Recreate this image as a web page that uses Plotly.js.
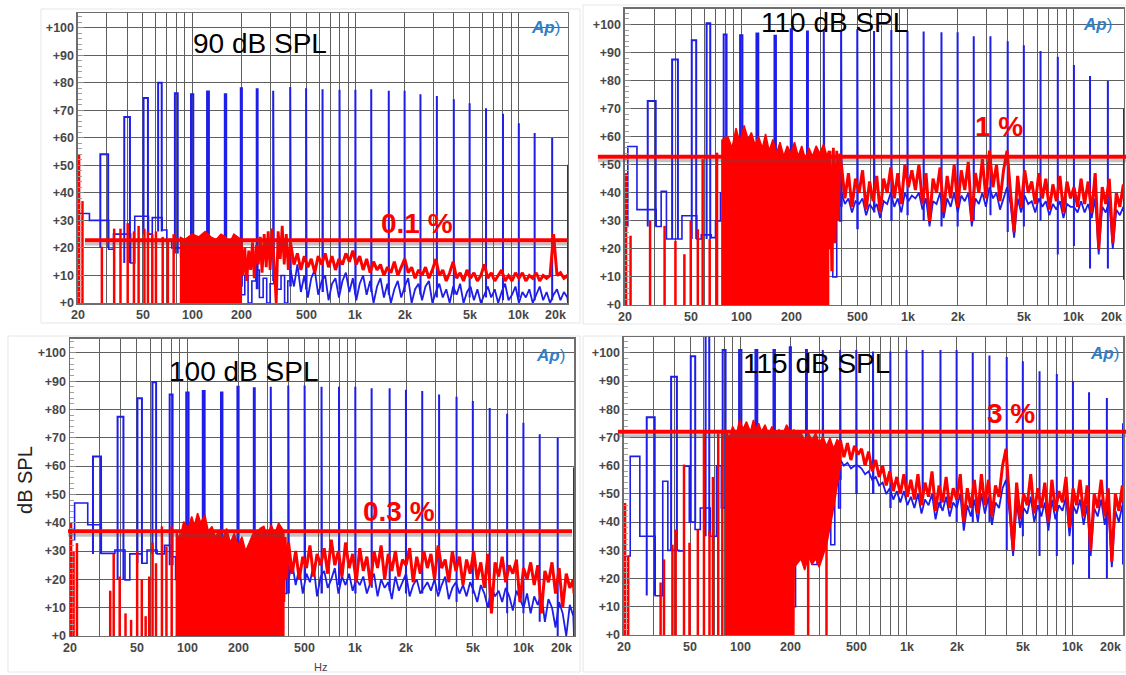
<!DOCTYPE html>
<html><head><meta charset="utf-8">
<script src="https://cdn.plot.ly/plotly-3.0.1.min.js"></script>
<style>html,body{margin:0;padding:0;background:#fff}#chart{width:1126px;height:675px}</style>
</head><body><div id="chart"></div>
<script>
// ---------- shared categories ----------
const TONE_F = [29, 40, 52, 63.5, 80, 100, 125, 160, 200, 250, 315, 400, 500, 630, 800, 1000, 1250, 1600, 2000, 2500, 3150, 4000, 5000, 6300, 8000, 10000, 12500, 16000, 20000];
const NOISE_F = [400,420,441,463,486,511,536,563,591,621,
 652,684,718,754,792,832,873,917,963,1011,
 1061,1114,1170,1229,1290,1355,1422,1493,1568,1647,
 1729,1815,1906,2002,2102,2207,2317,2433,2555,2682,
 2816,2957,3105,3260,3423,3594,3774,3963,4161,4369,
 4587,4817,5058,5311,5576,5855,6148,6455,6778,7117,
 7473,7846,8239,8651,9083,9537,10014,10515,11041,11593,
 12172,12781,13420,14091,14795,15535,16312,17127,17984,18883,
 19827,20000];
const GRID_F = [20,30,40,50,60,70,80,90,100,200,300,400,500,600,700,800,900,1000,2000,3000,4000,5000,6000,7000,8000,9000,10000,20000];
const XLAB_F = [20,50,100,200,500,1000,2000,5000,10000,20000];
const XLAB_T = ['20','50','100','200','500','1k','2k','5k','10k','20k'];
const Y_TICKS = [0,10,20,30,40,50,60,70,80,90,100];
const Y_TEXT = ['+0','+10','+20','+30','+40','+50','+60','+70','+80','+90','+100'];

// ---------- 90 dB SPL ----------
const TL_TITLE = '90 dB SPL', TL_THD_TEXT = '0.1 %', TL_THD = 22.8;
const TL_TONE_V = [54, 67.5, 74.4, 80, 76.2, 75.8, 76.8, 75.8, 78, 77.6, 77.1, 78.4, 78, 77.6, 77.4, 77.4, 77.6, 77.1, 77.1, 75.8, 75.2, 74, 72.5, 70.7, 68.7, 65.3, 61.7, 59.9, 50.2];
const TL_TONE_B = [20, 14.5, 25, 26, 18, 12, 14, 10, 6, 5, 8, 6, 5, 4, 5, 3, 4, 3, 4, 3, 2, 3, 2, 2, 1, 2, 1, 1, 0];
const TL_STAIR_F = [20,23.5,27.5,30.8,33,38.5,42,44.5,50.5,54,57,61.5,65.5,70,75,85,92,100,108,117,126,136,147,159,172,186,200,210,220,232,245,258,272,286,300,316,332,350,368,385,400];
const TL_STAIR_V = [32.5,30,30,19.5,25,25,14.5,31.5,31.5,25,31,31,26.5,23,20,17,12,18,10,19,8,16,9,14,6,12,3,10,0,8,12,2,9,0,7,12,5,10,0,8,12];
const TL_BLUE_N = [12,6,14,4,10,2,9,12,3,8,
 10,1,7,9,2,8,11,4,9,1,
 7,10,3,8,0,6,9,2,7,0,
 5,8,2,6,9,0,5,7,1,6,
 8,0,4,7,2,5,0,6,3,7,
 0,4,6,1,5,0,3,6,2,5,
 0,4,7,1,3,6,0,4,2,5,
 0,3,6,1,4,0,3,5,1,4,
 2,0];
const TL_RED_N = [22,14,18,12,17,13,16,11,17,14,
 18,13,17,12,16,14,18,15,19,14,
 17,12,16,11,15,12,14,10,13,11,
 15,10,13,16,11,13,9,12,10,13,
 9,12,16,10,12,8,11,15,9,11,
 8,12,9,11,8,10,14,9,11,8,
 10,12,8,10,8,11,9,11,8,10,
 9,11,8,10,9,10,25,10,11,9,
 10,9];
const TL_SPK_F = [20.3,21.3,28,33.3,36.4,40.3,44,47,51,53.6,57,60,66,71,77];
const TL_SPK_V = [54,37,20.5,27,27,29,26,28,27,26,25,26,24,23,25];
const TL_BLK_F = [84,90,100,110,120,130,140,150,160,170,180,190,200];
const TL_BLK_HI = [24,23,25,24,26,24,23,25,24,22,25,24,23];
const TL_BLK_LO = [0,0,0,0,0,0,0,0,0,0,0,0,0];
const TL_RLOW_F = [200,205,210,216,222,228,234,240,247,254,261,268,276,284,292,300,309,318,327,336,346,356,366,377,388,400];
const TL_RLOW_V = [22,10,20,8,19,12,22,9,21,14,24,11,25,13,26,12,27,15,0,26,16,28,14,25,12,22];

// ---------- 110 dB SPL ----------
const TR_TITLE = '110 dB SPL', TR_THD_TEXT = '1 %', TR_THD = 52.8;
const TR_TONE_V = [72.7, 87.5, 94.4, 100.4, 96.4, 96.1, 96.8, 96, 98.3, 97.5, 98, 98, 98.3, 97.7, 98, 97.7, 97.5, 97.2, 97.2, 95.8, 95.8, 94, 92.6, 90.5, 88.5, 85.5, 81.6, 79.8, 70];
const TR_TONE_B = [28, 23.5, 23.5, 23.5, 30, 20, 25, 30, 25, 20, 15, 35, 27, 33, 30, 32, 30, 28, 28, 30, 32, 26, 28, 30, 18, 21, 13, 13, 9];
const TR_STAIR_F = [20,20.8,23.6,27.5,30.8,33,35.5,38.5,42,44,50.5,54,57.5,61.5,66,70,75,85,95,105,115,127,140,155,170,185,200,212,225,240,258,275,295,315,335,355,375,390,400];
const TR_STAIR_V = [28,56.5,34,34,28,40.5,23.5,23.5,23.5,31.8,31.8,23.5,25,25,24,30,40,30,45,22,48,35,50,28,45,20,40,0,35,20,42,25,45,20,38,10,40,30,45];
const TR_BLUE_N = [40,36,38,33,37,36,38,32,36,34,
 36,31,37,36,40,35,38,33,40,37,
 39,38,40,34,38,28,37,36,40,31,
 38,35,40,33,39,37,40,28,38,36,
 40,35,42,38,40,34,38,42,36,24,
 38,33,39,36,37,33,38,35,37,32,
 36,34,37,31,36,35,35,33,37,33,
 36,31,38,18,35,33,37,20,34,32,
 35,33];
const TR_RED_N = [50,38,47,35,45,40,48,34,44,37,
 46,33,45,40,49,38,47,36,50,42,
 48,41,50,36,47,30,45,40,49,33,
 46,38,50,35,48,41,51,30,47,40,
 52,38,55,42,50,37,48,55,40,26,
 46,35,48,40,44,36,47,38,45,34,
 43,37,46,33,44,38,42,35,45,36,
 44,33,47,20,42,36,45,22,40,35,
 43,38];
const TR_SPK_F = [20.3,21.6,28.3,34.6,40.2,45.5,49.7,54.8,58.6,64.6,71.5,77];
const TR_SPK_V = [47,24.7,30,28.2,22.9,18.1,30,27,52,23.5,54.3,59];
const TR_BLK_F = [77,83,88,93,98,104,110,115,121,127,134,140,147,155,163,171,180,189,199,209,220,231,243,255,268,282,297,312,328,335];
const TR_BLK_HI = [59,60,56,63,58,64,59,61.5,57,60,56,61,55,59,54,58,53,56.7,54,58,53,56.7,52,56,53,56.7,54,57.3,53,55];
const TR_BLK_LO = [0,0,0,0,0,0,0,0,0,0,0,0,0,0,0,0,0,0,0,0,0,0,0,0,0,0,0,0,0,0];
const TR_RLOW_F = [335,342,350,358,366,375,383,392,400];
const TR_RLOW_V = [20,55,12,56,22,55,30,54,50];

// ---------- 100 dB SPL ----------
const BL_TITLE = '100 dB SPL', BL_THD_TEXT = '0.3 %', BL_THD = 37;
const BL_TONE_V = [63.4, 77.4, 84, 89.6, 85.3, 86, 86.5, 86, 88, 87.5, 88, 88.5, 88.5, 88, 88, 88, 87.5, 87.5, 87, 86.5, 85.3, 84.5, 83, 80.5, 78.5, 75.3, 71.3, 70, 59.5];
const BL_TONE_B = [29, 19.8, 25.7, 29, 25, 10, 20, 15, 18, 20, 5, 15, 20, 15, 18, 15, 17, 16, 15, 15, 16, 12, 15, 10, 8, 8, 5, 0, 0];
const BL_STAIR_F = [20,21.3,25.5,28.5,30.7,37,39,42.5,45.4,49.6,53.5,57.5,61,66,73,80,85,95,105,115,127,140,155,170,185,200,215,230,250,270,290,310,330,350,370,390,400];
const BL_STAIR_V = [34,47,39.3,39.3,29.2,30.4,30.4,19.8,29,29,25.7,30.4,30.4,29,32,28,20,30,12,35,18,30,10,28,15,32,8,30,18,35,12,30,5,28,15,25,20];
const BL_BLUE_N = [20,26,18,24,15,22,19,25,14,21,
 23,17,20,24,15,21,18,22,16,20,
 18,21,15,19,22,14,20,17,19,13,
 21,16,19,22,14,18,20,15,17,19,
 16,20,14,18,21,13,17,19,15,18,
 14,19,16,12,18,15,10,17,14,16,
 12,17,14,9,16,13,10,15,8,14,
 11,15,5,13,10,3,12,8,0,11,
 7,0];
const BL_RED_N = [33,22,30,20,28,24,32,21,29,25,
 31,22,34,25,30,21,33,24,29,19,
 31,23,28,18,30,24,32,20,29,23,
 30,21,27,25,31,19,28,22,30,24,
 29,20,32,24,27,19,30,23,28,18,
 27,22,30,20,26,17,29,8,26,21,
 28,19,25,22,27,12,24,20,26,18,
 25,8,23,19,26,15,24,10,22,17,
 20,15];
const BL_SPK_F = [20.3,21,22,34.7,36.4,39.5,42.8,46.2,50.2,53.5,56.4,59.2,62,65,70.5,75,80.6];
const BL_SPK_V = [40,30,32.8,16,29,21,8,5.7,30,20,7,21,33,25.7,38.7,31.6,38.7];
const BL_BLK_F = [85,90,95,101,106,110,115,120,127,133,140,147,155,162,171,180,190,200,211,222,233,245,258,271,285,300,315,331,349,368,375];
const BL_BLK_HI = [37.5,34,40.4,38,42.2,39,43.4,40,42.8,37,38.7,35,37.5,34,38,33,36.3,32,35,30,32.8,36,36.3,38,38.7,35,39.3,36,39.9,38,37];
const BL_BLK_LO = [0,0,0,0,0,0,0,0,0,0,0,0,0,0,0,0,0,0,0,0,0,0,0,0,0,0,0,0,0,0,0];
const BL_RLOW_F = [375,382,390,400];
const BL_RLOW_V = [12,35,20,33];

// ---------- 115 dB SPL ----------
const BR_TITLE = '115 dB SPL', BR_THD_TEXT = '3 %', BR_THD = 72;
const BR_TONE_V = [77.2, 91.5, 98.8, 106, 101, 101, 101, 101, 102, 101, 101, 101, 101, 100.5, 100.5, 101, 101, 101, 101, 100, 99, 98.5, 97, 93.5, 92.5, 90, 86, 84, 75];
const BR_TONE_B = [14, 30, 40, 35, 45, 50, 30, 35, 10, 25, 30, 55, 50, 50, 45, 50, 48, 45, 40, 40, 40, 30, 35, 28, 28, 25, 20, 20, 25];
const BR_STAIR_F = [20,21.8,24.9,27.9,30.8,34.2,36.7,39.6,42.7,45.9,49.4,53.5,57.5,61,66,72,77,85,95,105,115,127,140,155,170,185,200,215,230,250,270,290,310,330,350,370,390,400];
const BR_STAIR_V = [28,63.3,35,35,13.9,54.5,30,30,29.8,59.8,40,37.4,45,45,35,60,45,55,40,65,45,60,35,62,40,58,10,55,28,50,25,55,35,50,32,55,45,60];
const BR_BLUE_N = [62,60,61,59,60,60,59,57,58,55,
 56,53,54,50,52,48,51,47,51,46,
 49,45,50,43,48,46,50,41,47,44,
 49,42,47,45,50,37,46,42,48,40,
 50,43,49,39,47,45,52,55,43,28,
 47,38,45,43,49,40,46,42,47,37,
 48,41,46,44,49,35,46,43,48,39,
 46,28,45,42,48,39,46,24,44,40,
 46,43];
const BR_RED_N = [69,63,68,62,67,64,66,60,65,58,
 62,56,60,53,58,51,56,50,57,49,
 55,48,57,46,54,49,58,44,53,47,
 56,45,52,48,57,40,52,45,55,43,
 57,46,55,42,53,49,60,66,47,30,
 54,41,50,46,57,43,52,45,54,40,
 55,44,51,47,56,38,52,46,55,42,
 53,30,50,45,55,42,52,26,50,44,
 53,47];
const BR_SPK_F = [20.3,21.2,33.2,34.8,39.1,40.9,45.9,49.5,55.6,60.5,65.3,68.5,73.7,78,256,330];
const BR_SPK_V = [46.8,28,18.6,26.8,32,37.4,60.4,32.7,37.4,71.5,37,56,71.5,72.7,30,35];
const BR_BLK_F = [81,86,90,95,99,104,109,115,120,124,129,134,141,148,155,162,171,180,190,200,210,211,232,244,257,270,284,298,314,330,346,364,382,400];
const BR_BLK_HI = [72.7,70,73.9,71,76.2,73,75.6,72,76.2,73,75,72,74.5,71,73.9,70,72.7,71,74.5,72,72.7,72,71.5,69,71.5,69,71.5,68,70.3,67,69.8,66,69.2,68];
const BR_BLK_LO = [0,0,0,0,0,0,0,0,0,0,0,0,0,0,0,0,0,0,0,0,0,24,27,23,28,25,27,24,28,32,38,45,52,60];
const BR_RLOW_F = [];
const BR_RLOW_V = [];

// ---------- styles / placement ----------
const FONT = 'Liberation Sans, Arial, sans-serif';
const BLUE = 'rgb(30,30,232)', RED = 'rgb(255,0,0)', GRID = '#5f5f5f', AXIS = '#6e6e6e';
const BIN_HALF = 1.6;

const PANELS = [
 {title:TL_TITLE, thdText:TL_THD_TEXT, thd:TL_THD, toneV:TL_TONE_V, toneB:TL_TONE_B, stairF:TL_STAIR_F, stairV:TL_STAIR_V,
  blueN:TL_BLUE_N, redN:TL_RED_N, spkF:TL_SPK_F, spkV:TL_SPK_V, blkF:TL_BLK_F, blkHi:TL_BLK_HI, blkLo:TL_BLK_LO, rlF:TL_RLOW_F, rlV:TL_RLOW_V,
  xd:[0.06927,0.50444], yd:[0.55111,0.98074], ymax:105.3,
  titlePos:[0.231,0.936], thdPos:[0.3703,0.6696], lineX:[0.0755,0.5044], logo:[0.4849,0.960], frame:[0.0364,0.5151,0.5215,0.9867]},
 {title:TR_TITLE, thdText:TR_THD_TEXT, thd:TR_THD, toneV:TR_TONE_V, toneB:TR_TONE_B, stairF:TR_STAIR_F, stairV:TR_STAIR_V,
  blueN:TR_BLUE_N, redN:TR_RED_N, spkF:TR_SPK_F, spkV:TR_SPK_V, blkF:TR_BLK_F, blkHi:TR_BLK_HI, blkLo:TR_BLK_LO, rlF:TR_RLOW_F, rlV:TR_RLOW_V,
  xd:[0.55506,0.99822], yd:[0.54815,0.98667], ymax:105.5,
  titlePos:[0.7407,0.967], thdPos:[0.8872,0.8119], lineX:[0.531,1.0], logo:[0.975,0.963], frame:[0.5178,1.0,0.52,0.9926]},
 {title:BL_TITLE, thdText:BL_THD_TEXT, thd:BL_THD, toneV:BL_TONE_V, toneB:BL_TONE_B, stairF:BL_STAIR_F, stairV:BL_STAIR_V,
  blueN:BL_BLUE_N, redN:BL_RED_N, spkF:BL_SPK_F, spkV:BL_SPK_V, blkF:BL_BLK_F, blkHi:BL_BLK_HI, blkLo:BL_BLK_LO, rlF:BL_RLOW_F, rlV:BL_RLOW_V,
  xd:[0.06217,0.50977], yd:[0.05778,0.49778], ymax:104.9,
  titlePos:[0.216,0.449], thdPos:[0.3544,0.2415], lineX:[0.0604,0.508], logo:[0.4885,0.4726], frame:[0.0071,0.5151,0.0044,0.5022]},
 {title:BR_TITLE, thdText:BR_THD_TEXT, thd:BR_THD, toneV:BR_TONE_V, toneB:BR_TONE_B, stairF:BR_STAIR_F, stairV:BR_STAIR_V,
  blueN:BR_BLUE_N, redN:BR_RED_N, spkF:BR_SPK_F, spkV:BR_SPK_V, blkF:BR_BLK_F, blkHi:BR_BLK_HI, blkLo:BR_BLK_LO, rlF:BR_RLOW_F, rlV:BR_RLOW_V,
  xd:[0.55417,0.99734], yd:[0.05926,0.50074], ymax:105.6,
  titlePos:[0.7247,0.462], thdPos:[0.8979,0.3881], lineX:[0.5488,1.0], logo:[0.9813,0.477], frame:[0.5178,1.0,0.0044,0.5022]}
];

const data = [];
const layout = {
  width:1126, height:675, margin:{l:0,r:0,t:0,b:0}, paper_bgcolor:'#ffffff', plot_bgcolor:'#ffffff',
  showlegend:false, hovermode:false, font:{family:FONT}, annotations:[], shapes:[]
};

PANELS.forEach((p,k)=>{
  const n = k===0 ? '' : String(k+1);
  const xa = 'x'+n, ya = 'y'+n;
  layout['xaxis'+n] = {type:'log', domain:p.xd, range:[Math.log10(20), Math.log10(20000)], anchor:ya,
    tickmode:'array', tickvals:GRID_F, showticklabels:false, ticks:'', showgrid:true, gridcolor:GRID, gridwidth:1,
    showline:true, linecolor:AXIS, linewidth:1.5, mirror:true, zeroline:false, fixedrange:true};
  layout['yaxis'+n] = {domain:p.yd, range:[0,p.ymax], anchor:xa, tickmode:'array', tickvals:Y_TICKS, ticktext:Y_TEXT,
    tickfont:{family:FONT, size:12.5, color:'#474747', weight:'bold'}, ticks:'inside', ticklen:6, tickcolor:'#8a8a8a',
    minor:{tickmode:'linear', tick0:0, dtick:2, ticks:'inside', ticklen:4, tickcolor:'#a0a0a0', showgrid:false},
    showgrid:true, gridcolor:GRID, gridwidth:1, showline:true, linecolor:AXIS, linewidth:1.5, mirror:true, zeroline:false, fixedrange:true};

  const base = {xaxis:xa, yaxis:ya, mode:'lines', hoverinfo:'skip', showlegend:false};
  // blue: low-frequency staircase
  data.push(Object.assign({}, base, {x:p.stairF, y:p.stairV, line:{color:BLUE, width:1.6, shape:'hv'}}));
  // blue: noise floor
  data.push(Object.assign({}, base, {x:NOISE_F, y:p.blueN, line:{color:BLUE, width:1.8}}));
  // blue: tones
  const tx=[], ty=[];
  TONE_F.forEach((f,i)=>{ tx.push(f-BIN_HALF, f-BIN_HALF, f+BIN_HALF, f+BIN_HALF, null); ty.push(p.toneB[i], p.toneV[i], p.toneV[i], p.toneB[i], null); });
  data.push(Object.assign({}, base, {x:tx, y:ty, line:{color:BLUE, width:2}}));
  // red: dense block as a closed polygon (upper envelope then lower envelope reversed)
  const bx = p.blkF.concat(p.blkF.slice().reverse());
  const by = p.blkHi.concat(p.blkLo.slice().reverse());
  data.push(Object.assign({}, base, {x:bx, y:by, fill:'toself', fillcolor:RED, line:{color:RED, width:1.5}}));
  // red: low-frequency spikes
  const sx=[], sy=[];
  p.spkF.forEach((f,i)=>{ sx.push(f,f,null); sy.push(0,p.spkV[i],null); });
  data.push(Object.assign({}, base, {x:sx, y:sy, line:{color:RED, width:2.5}}));
  // red: transition segment
  if (p.rlF.length) data.push(Object.assign({}, base, {x:p.rlF, y:p.rlV, line:{color:RED, width:2.8}}));
  // red: residual noise
  data.push(Object.assign({}, base, {x:NOISE_F, y:p.redN, line:{color:RED, width:3}}));

  // x tick labels
  XLAB_F.forEach((f,i)=>{
    layout.annotations.push({xref:xa, yref:ya+' domain', x:Math.log10(f), y:0, yanchor:'top', yshift:-3,
      xanchor: f===20000 ? 'right' : 'center', showarrow:false, text:XLAB_T[i],
      font:{family:FONT, size:12.5, color:'#474747', weight:'bold'}});
  });
  // title
  layout.annotations.push({xref:'paper', yref:'paper', x:p.titlePos[0], y:p.titlePos[1], xanchor:'center', yanchor:'middle',
    showarrow:false, text:p.title, font:{family:FONT, size:28, color:'#000'}});
  // distortion label
  layout.annotations.push({xref:'paper', yref:'paper', x:p.thdPos[0], y:p.thdPos[1], xanchor:'center', yanchor:'middle',
    showarrow:false, text:p.thdText, font:{family:FONT, size:28, color:RED, weight:'bold'}});
  // logo
  layout.annotations.push({xref:'paper', yref:'paper', x:p.logo[0], y:p.logo[1], xanchor:'center', yanchor:'middle',
    showarrow:false, text:'<b><i>Ap</i></b>)', font:{family:FONT, size:17, color:'#2f80c8'}});
  // faint frame
  layout.shapes.push({type:'rect', xref:'paper', yref:'paper', x0:p.frame[0], x1:p.frame[1], y0:p.frame[2], y1:p.frame[3],
    line:{color:'#e6e6e6', width:1}, layer:'below'});
  // distortion threshold line with shadow
  layout.shapes.push({type:'line', xref:'paper', yref:ya, x0:p.lineX[0], x1:p.lineX[1], y0:p.thd-1.4, y1:p.thd-1.4,
    line:{color:'rgba(80,80,80,0.35)', width:3}});
  layout.shapes.push({type:'line', xref:'paper', yref:ya, x0:p.lineX[0], x1:p.lineX[1], y0:p.thd, y1:p.thd,
    line:{color:RED, width:4}});
});

layout.annotations.push({xref:'paper', yref:'paper', x:0.0222, y:0.2889, textangle:-90, xanchor:'center', yanchor:'middle',
  showarrow:false, text:'dB SPL', font:{family:FONT, size:20, color:'#222'}});
layout.annotations.push({xref:'paper', yref:'paper', x:0.2842, y:0.0119, xanchor:'center', yanchor:'middle',
  showarrow:false, text:'Hz', font:{family:FONT, size:11, color:'#444'}});

Plotly.newPlot('chart', data, layout, {staticPlot:true, displayModeBar:false});
</script>
</body></html>
